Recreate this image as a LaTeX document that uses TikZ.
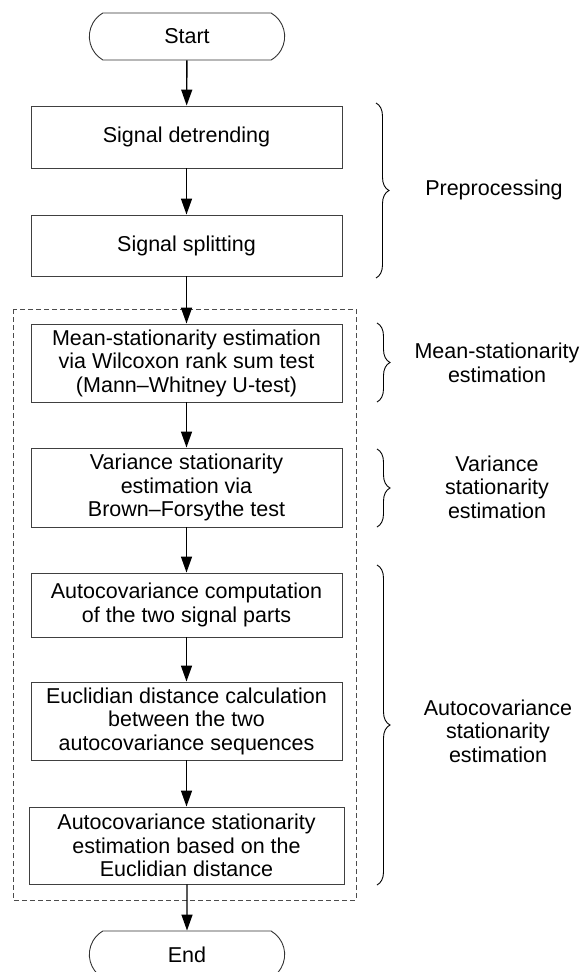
\documentclass[tikz,border=0pt]{standalone}
\usepackage{fontspec}
\setmainfont{Liberation Sans}
\usetikzlibrary{shapes.misc,arrows.meta,decorations.pathreplacing}

\begin{document}
\begin{tikzpicture}[
        x=1pt, y=-1pt,
        font=\fontsize{21.5}{23.5}\selectfont,
        box/.style={draw=black!75, line width=0.9pt, minimum width=311pt, align=center, inner sep=2pt},
        term/.style={draw=black!80, line width=0.9pt, rounded rectangle, rounded rectangle arc length=120, minimum width=202pt, minimum height=47pt},
        flow/.style={draw, -{Triangle[width=11pt,length=16pt]}, line width=1.4pt},
        grp/.style={draw, decorate, decoration={brace, amplitude=13pt}, line width=0.9pt},
        frame/.style={draw=black!70, line width=0.8pt, dash pattern=on 5pt off 3pt},
        note/.style={align=center},
    ]
    \useasboundingbox (0,0) rectangle (588,972);

    % main flow
    \node[term] (start) at (187,36.5) {Start};
    \node[box, minimum height=62pt] (detrend) at (186.5,137) {Signal detrending};
    \node[box, minimum height=61pt] (split) at (186.5,245.5) {Signal splitting};
    \node[box, minimum height=78pt] (mean) at (186.5,363) {Mean-stationarity estimation\\via Wilcoxon rank sum test\\(Mann--Whitney U-test)};
    \node[box, minimum height=79pt] (var) at (186.5,487.5) {Variance stationarity\\estimation via\\Brown--Forsythe test};
    \node[box, minimum height=64pt] (acov) at (186.5,605) {Autocovariance computation\\of the two signal parts};
    \node[box, minimum height=78pt] (eucl) at (186.5,721) {Euclidian distance calculation\\between the two\\autocovariance sequences};
    \node[box, minimum height=77pt, minimum width=315pt] (acst) at (186.5,845.5) {Autocovariance stationarity\\estimation based on the\\Euclidian distance};
    \node[term] (end) at (187,954.5) {End};

    % stationarity block
    \draw[frame] (13,309) rectangle (356,900);

    \draw[flow] (start) -- (detrend);
    \draw[flow] (detrend) -- (split);
    \draw[flow] (split) -- (mean);
    \draw[flow] (mean) -- (var);
    \draw[flow] (var) -- (acov);
    \draw[flow] (acov) -- (eucl);
    \draw[flow] (eucl) -- (acst);
    \draw[flow] (acst.south -| end) -- (end);

    % groups
    \draw[grp] (376,103) -- (376,278);
    \draw[grp] (377,323) -- (377,402);
    \draw[grp] (377,449) -- (377,527);
    \draw[grp] (377,565) -- (377,885);
    \node[note] (pre) at (494,190) {Preprocessing};
    \node[note] (meanlbl) at (497,363) {Mean-stationarity\\estimation};
    \node[note] (varlbl) at (497,487) {Variance\\stationarity\\estimation};
    \node[note] (acovlbl) at (498,731) {Autocovariance\\stationarity\\estimation};
\end{tikzpicture}
\end{document}
